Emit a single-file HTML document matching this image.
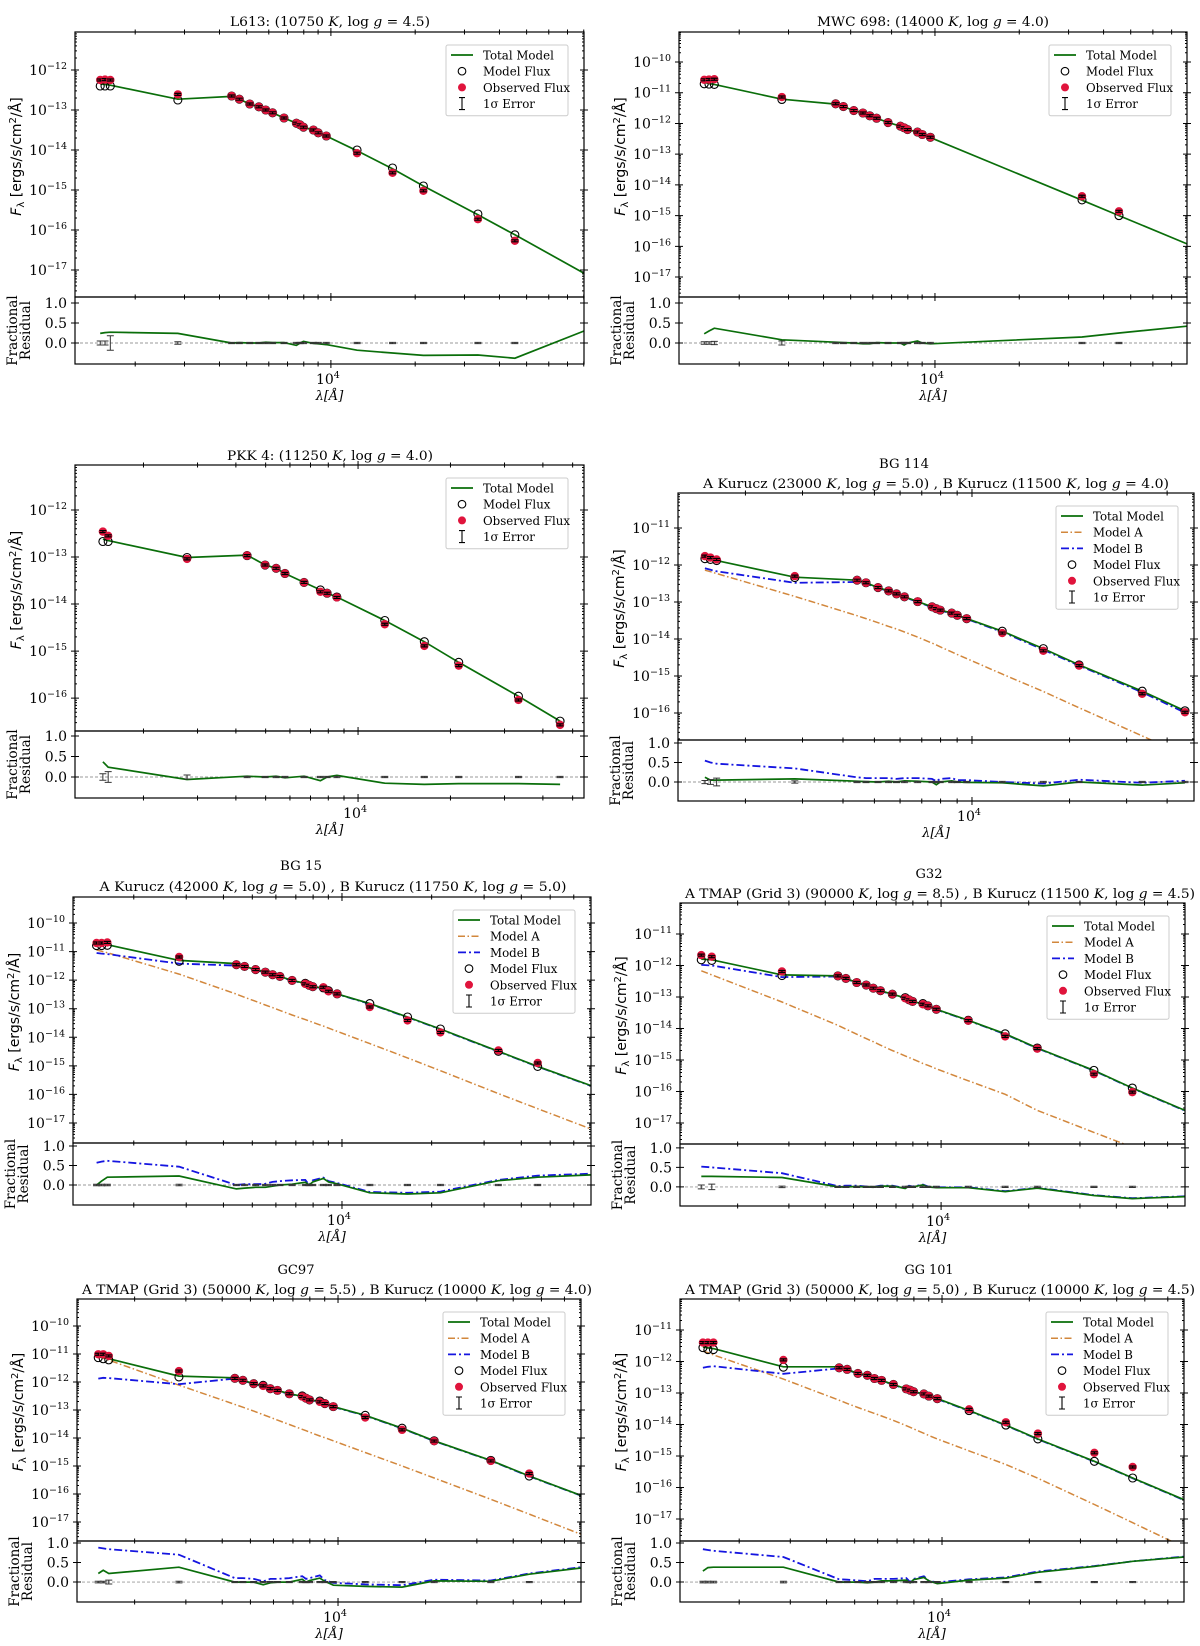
<!DOCTYPE html>
<html><head><meta charset="utf-8">
<style>
html,body{margin:0;padding:0;background:#fff;}
svg{display:block;}
text{font-family:"DejaVu Serif","Liberation Serif",serif;fill:#000;}
.sans{font-family:"DejaVu Sans","Liberation Sans",sans-serif;}
</style></head>
<body>
<svg id="fig" xmlns="http://www.w3.org/2000/svg" width="1200" height="1646" viewBox="0 0 1200 1646"></svg>
<script>
// ---- shared wavelength grids (Angstrom) ----
const WL = [1500,1560,1630,2840,4420,4710,5130,5530,5850,6190,6800,7530,7760,7980,8660,9010,9630,12400,16600,21400,33500,45400];
const WL2 = [1500,1560,1630,2840,4420,4710,5130,5530,5850,6190,6800,7530,7760,7980,8660,9010,9630,33500,45400];
const WL3 = [1475,1535,2773,4350,4980,5410,5780,6670,7540,7930,8530,12220,16440,21280,33300,45500];
const WL6 = [1500,1630,2840,4420,4710,5130,5530,5850,6190,6800,7530,7760,7980,8660,9010,9630,12400,16600,21400,33500,45400];

// ---- Panel 1: L613 (log10 flux) ----
const obs1 = [-12.25,-12.24,-12.25,-12.61,-12.65,-12.73,-12.85,-12.92,-13.0,-13.07,-13.2,-13.33,-13.37,-13.43,-13.5,-13.57,-13.65,-14.08,-14.57,-15.02,-15.73,-16.27];
const mod1 = [-12.4,-12.4,-12.4,-12.75,-12.65,-12.73,-12.85,-12.92,-13.0,-13.07,-13.2,-13.33,-13.37,-13.43,-13.5,-13.57,-13.65,-14.0,-14.45,-14.9,-15.6,-16.12];
const nodes1 = WL.concat([80200]);
const tot1 = [-12.35,-12.36,-12.38,-12.73,-12.66,-12.73,-12.85,-12.92,-13.0,-13.07,-13.2,-13.33,-13.37,-13.43,-13.5,-13.57,-13.65,-14.02,-14.47,-14.9,-15.62,-16.12,-17.08];
const res1 = [0.24,0.26,0.27,0.24,0.0,0.01,0.0,0.0,0.02,0.01,0.01,-0.06,0.0,0.04,-0.01,-0.02,-0.04,-0.18,-0.25,-0.31,-0.3,-0.38,0.3];
const err1 = [0.05,0.05,0.18,0.03];

// ---- Panel 2: MWC 698 ----
const obs2 = [-10.58,-10.57,-10.56,-11.14,-11.36,-11.45,-11.58,-11.66,-11.75,-11.83,-11.97,-12.09,-12.14,-12.2,-12.28,-12.36,-12.45,-14.37,-14.86];
const mod2 = [-10.71,-10.72,-10.73,-11.22,-11.36,-11.45,-11.58,-11.66,-11.75,-11.83,-11.97,-12.09,-12.14,-12.2,-12.28,-12.36,-12.45,-14.49,-15.0];
const nodes2 = WL2.concat([79430]);
const tot2 = [-10.66,-10.7,-10.73,-11.21,-11.37,-11.45,-11.58,-11.66,-11.75,-11.83,-11.97,-12.09,-12.14,-12.2,-12.28,-12.36,-12.46,-14.5,-15.0,-15.92];
const res2 = [0.23,0.3,0.37,0.08,0.02,0.01,0.0,-0.02,-0.02,0.01,0.0,0.0,-0.05,0.0,0.05,0.0,-0.02,0.15,0.25,0.42];
const err2 = [0.03,0.03,0.04,0.05];

// ---- Panel 3: PKK 4 ----
const obs3 = [-12.46,-12.55,-13.04,-12.97,-13.17,-13.24,-13.35,-13.54,-13.74,-13.77,-13.86,-14.43,-14.89,-15.31,-16.04,-16.57];
const mod3 = [-12.67,-12.67,-13.01,-12.97,-13.17,-13.24,-13.35,-13.54,-13.7,-13.77,-13.85,-14.35,-14.8,-15.24,-15.96,-16.49];
const nodes3 = WL3;
const tot3 = [-12.62,-12.65,-13.01,-12.96,-13.17,-13.24,-13.35,-13.54,-13.7,-13.77,-13.85,-14.35,-14.8,-15.24,-15.96,-16.49];
const res3 = [0.37,0.24,-0.06,0.02,0.0,0.02,-0.02,0.02,-0.09,0.0,0.04,-0.15,-0.18,-0.16,-0.16,-0.18];
const err3 = [0.08,0.13,0.05];

// ---- Panel 4: BG 114 ----
const obs4 = [-11.76,-11.8,-11.85,-12.3,-12.41,-12.48,-12.61,-12.7,-12.78,-12.86,-12.99,-13.13,-13.18,-13.22,-13.3,-13.36,-13.45,-13.84,-14.32,-14.72,-15.48,-15.98];
const mod4 = [-11.83,-11.85,-11.88,-12.34,-12.41,-12.48,-12.61,-12.7,-12.78,-12.86,-12.99,-13.13,-13.18,-13.22,-13.3,-13.36,-13.45,-13.79,-14.26,-14.7,-15.41,-15.94];
const nodes4 = WL;
const tot4 = [-11.81,-11.84,-11.88,-12.33,-12.41,-12.48,-12.61,-12.7,-12.78,-12.86,-12.99,-13.13,-13.18,-13.22,-13.3,-13.36,-13.45,-13.79,-14.26,-14.7,-15.41,-15.94];
const modA4 = [-12.14,-12.18,-12.23,-12.85,-13.37,-13.45,-13.56,-13.66,-13.73,-13.81,-13.95,-14.11,-14.16,-14.21,-14.35,-14.42,-14.53,-14.95,-15.42,-15.86,-16.62,-17.15];
const modB4 = [-12.09,-12.13,-12.17,-12.48,-12.46,-12.5,-12.62,-12.71,-12.79,-12.87,-13.0,-13.14,-13.19,-13.23,-13.31,-13.37,-13.46,-13.81,-14.29,-14.72,-15.44,-15.99];
const res4 = [0.12,0.05,0.05,0.08,0.02,0.01,0.0,0.02,0.0,0.03,0.02,0.0,-0.07,0.0,0.03,0.0,-0.01,-0.02,-0.1,0.0,-0.08,-0.02];
const resB4 = [0.55,0.5,0.47,0.35,0.12,0.1,0.1,0.1,0.08,0.1,0.1,0.08,0.02,0.08,0.1,0.05,0.05,0.0,-0.04,0.06,-0.02,0.03];
const err4 = [0.04,0.06,0.1,0.03];

// ---- Panel 5: BG 15 ----
const obs5 = [-10.7,-10.7,-10.68,-11.19,-11.46,-11.52,-11.63,-11.72,-11.81,-11.87,-12.01,-12.13,-12.18,-12.23,-12.25,-12.39,-12.48,-12.94,-13.41,-13.83,-14.46,-14.9];
const mod5 = [-10.79,-10.79,-10.78,-11.34,-11.46,-11.52,-11.63,-11.72,-11.81,-11.87,-12.01,-12.11,-12.18,-12.23,-12.27,-12.37,-12.48,-12.82,-13.29,-13.71,-14.49,-15.02];
const nodes5 = WL.concat([68550]);
const tot5 = [-10.7,-10.73,-10.76,-11.31,-11.42,-11.52,-11.63,-11.72,-11.81,-11.87,-12.01,-12.11,-12.18,-12.23,-12.27,-12.37,-12.48,-12.82,-13.29,-13.71,-14.49,-15.02,-15.69];
const modA5 = [-10.94,-10.99,-11.04,-11.79,-12.49,-12.6,-12.74,-12.87,-12.96,-13.06,-13.22,-13.38,-13.43,-13.48,-13.61,-13.68,-13.79,-14.22,-14.72,-15.17,-15.97,-16.5,-17.21];
const modB5 = [-11.05,-11.07,-11.09,-11.42,-11.49,-11.53,-11.64,-11.73,-11.82,-11.88,-12.02,-12.12,-12.19,-12.24,-12.28,-12.38,-12.49,-12.83,-13.3,-13.72,-14.5,-15.03,-15.7];
const res5 = [0.0,0.1,0.2,0.23,-0.1,-0.08,-0.06,-0.06,-0.03,0.0,0.02,0.07,0.0,0.08,0.17,0.08,0.03,-0.2,-0.23,-0.2,0.11,0.2,0.26];
const resB5 = [0.57,0.6,0.62,0.47,0.0,0.02,0.02,0.03,0.08,0.1,0.12,0.13,0.0,0.12,0.19,0.1,0.05,-0.18,-0.2,-0.17,0.13,0.24,0.29];
const err5 = [0.02,0.02,0.02,0.02];

// ---- Panel 6: G32 ----
const obs6 = [-11.67,-11.72,-12.19,-12.33,-12.41,-12.54,-12.62,-12.72,-12.8,-12.91,-13.04,-13.09,-13.14,-13.23,-13.28,-13.39,-13.75,-14.25,-14.64,-15.45,-16.02];
const mod6 = [-11.82,-11.84,-12.32,-12.33,-12.41,-12.54,-12.62,-12.72,-12.8,-12.91,-13.02,-13.09,-13.14,-13.21,-13.28,-13.39,-13.74,-14.17,-14.62,-15.33,-15.89];
const nodes6 = WL6.concat([68870]);
const tot6 = [-11.8,-11.82,-12.3,-12.33,-12.41,-12.54,-12.62,-12.72,-12.8,-12.91,-13.03,-13.09,-13.14,-13.22,-13.28,-13.39,-13.74,-14.17,-14.62,-15.33,-15.89,-16.6];
const modA6 = [-12.17,-12.3,-13.16,-13.9,-14.02,-14.18,-14.32,-14.42,-14.53,-14.7,-14.87,-14.92,-14.97,-15.11,-15.17,-15.28,-15.66,-16.09,-16.6,-17.3,-17.77,-18.4];
const modB6 = [-11.98,-12.0,-12.37,-12.35,-12.42,-12.55,-12.63,-12.73,-12.81,-12.92,-13.04,-13.1,-13.15,-13.23,-13.29,-13.4,-13.75,-14.18,-14.63,-15.34,-15.9,-16.61];
const res6 = [0.27,0.27,0.24,0.0,0.0,0.01,0.0,-0.01,0.02,0.02,-0.04,0.02,0.0,0.05,0.0,-0.02,-0.02,-0.12,-0.03,-0.22,-0.3,-0.25];
const resB6 = [0.52,0.5,0.35,0.02,0.03,0.03,0.01,0.0,0.03,0.03,-0.03,0.03,0.01,0.06,0.01,-0.01,-0.01,-0.11,-0.02,-0.21,-0.29,-0.24];
const err6 = [0.05,0.07,0.02];

// ---- Panel 7: GC97 ----
const obs7 = [-11.01,-11.01,-11.07,-11.61,-11.87,-11.94,-12.06,-12.14,-12.24,-12.3,-12.42,-12.52,-12.58,-12.64,-12.71,-12.77,-12.88,-13.27,-13.71,-14.11,-14.82,-15.27];
const mod7 = [-11.13,-11.17,-11.21,-11.82,-11.87,-11.94,-12.06,-12.12,-12.24,-12.3,-12.42,-12.5,-12.58,-12.64,-12.68,-12.77,-12.88,-13.19,-13.65,-14.1,-14.8,-15.36];
const nodes7 = WL.concat([68390]);
const tot7 = [-11.1,-11.13,-11.17,-11.79,-11.85,-11.94,-12.06,-12.13,-12.24,-12.3,-12.42,-12.51,-12.58,-12.64,-12.69,-12.77,-12.88,-13.19,-13.65,-14.1,-14.8,-15.36,-16.05];
const modA7 = [-11.08,-11.15,-11.22,-12.11,-12.8,-12.9,-13.04,-13.17,-13.26,-13.36,-13.52,-13.69,-13.74,-13.79,-13.93,-13.99,-14.1,-14.52,-15.0,-15.43,-16.19,-16.72,-17.44];
const modB7 = [-11.88,-11.85,-11.86,-12.08,-11.88,-11.95,-12.07,-12.14,-12.25,-12.31,-12.43,-12.52,-12.59,-12.65,-12.7,-12.78,-12.89,-13.2,-13.66,-14.11,-14.81,-15.37,-16.06];
const res7 = [0.22,0.3,0.22,0.38,0.0,0.0,0.0,-0.07,-0.02,0.0,0.0,0.07,0.0,0.04,0.1,0.02,-0.08,-0.11,-0.13,0.03,0.02,0.2,0.36];
const resB7 = [0.88,0.86,0.84,0.7,0.1,0.1,0.08,0.02,0.08,0.08,0.1,0.15,0.08,0.1,0.17,0.05,-0.02,-0.06,-0.08,0.06,0.04,0.22,0.38];
const err7 = [0.02,0.02,0.05,0.02];

// ---- Panel 8: GG 101 ----
const obs8 = [-11.4,-11.4,-11.4,-11.95,-12.2,-12.25,-12.38,-12.44,-12.54,-12.6,-12.73,-12.87,-12.91,-12.96,-13.03,-13.1,-13.18,-13.52,-13.93,-14.29,-14.9,-15.35];
const mod8 = [-11.56,-11.62,-11.62,-12.18,-12.2,-12.25,-12.38,-12.44,-12.54,-12.6,-12.73,-12.87,-12.91,-12.96,-13.03,-13.1,-13.18,-13.56,-14.02,-14.46,-15.17,-15.7];
const nodes8 = WL.concat([68230]);
const tot8 = [-11.54,-11.57,-11.59,-12.17,-12.17,-12.25,-12.38,-12.44,-12.54,-12.6,-12.73,-12.87,-12.91,-12.96,-13.03,-13.1,-13.18,-13.56,-14.02,-14.46,-15.17,-15.7,-16.39];
const modA8 = [-11.67,-11.72,-11.79,-12.56,-13.23,-13.33,-13.46,-13.57,-13.65,-13.73,-13.87,-14.04,-14.09,-14.14,-14.28,-14.35,-14.46,-14.84,-15.27,-15.71,-16.54,-17.12,-17.9];
const modB8 = [-12.2,-12.17,-12.15,-12.39,-12.22,-12.26,-12.39,-12.45,-12.55,-12.61,-12.74,-12.88,-12.92,-12.97,-13.04,-13.11,-13.19,-13.57,-14.03,-14.47,-15.18,-15.71,-16.4];
const res8 = [0.28,0.37,0.38,0.38,0.0,0.0,0.0,-0.02,0.0,0.03,0.03,0.05,-0.02,0.06,0.12,0.03,-0.04,0.05,0.1,0.25,0.4,0.53,0.64];
const resB8 = [0.84,0.82,0.8,0.64,0.07,0.06,0.04,0.02,0.08,0.08,0.08,0.1,0.0,0.08,0.15,0.03,-0.01,0.07,0.12,0.27,0.41,0.53,0.65];
const err8 = [0.02,0.02,0.02,0.02];

const resTicks = [0, 0.5, 1.0];
const resTickLabels = ["0.0", "0.5", "1.0"];

const NS = "http://www.w3.org/2000/svg";
const fig = document.getElementById('fig');
const GREEN = "#0a6e0a", ORANGE = "#d2873c", BLUE = "#1515e0", RED = "#e0143c";

function mk(tag, attrs, parent) {
  const e = document.createElementNS(NS, tag);
  for (const k in attrs) e.setAttribute(k, attrs[k]);
  (parent || fig).appendChild(e);
  return e;
}
function sup(parent, base, exp, attrs) {
  const t = mk('text', attrs, parent);
  t.appendChild(document.createTextNode(base));
  const s = mk('tspan', {dy: -6, 'font-size': 9.5}, t);
  s.textContent = exp;
  return t;
}

let clipId = 0;
function panel(P) {
  const g = mk('g', {});
  
  
  const X = l => P.x0 + (Math.log10(l) - P.lx[0]) / (P.lx[1] - P.lx[0]) * (P.x1 - P.x0);
  const Y = v => P.yT + (P.ly[1] - v) / (P.ly[1] - P.ly[0]) * (P.yM - P.yT);
  const R = v => P.yM + (P.lr[1] - v) / (P.lr[1] - P.lr[0]) * (P.yB - P.yM);

  P.titles.forEach(t => {
    const tt = mk('text', {x: t.x, y: t.y, 'font-size': 13, 'text-anchor': 'middle', textLength: t.w, lengthAdjust: 'spacingAndGlyphs'}, g);
    
    
    t.parts.forEach(p => { const s = mk('tspan', p[1] ? {'font-style': 'italic'} : {}, tt); s.textContent = p[0]; });
  });

  const cm = 'c' + (clipId++), cr = 'c' + (clipId++);
  const cpm = mk('clipPath', {id: cm}, g); mk('rect', {x: P.x0, y: P.yT, width: P.x1 - P.x0, height: P.yM - P.yT}, cpm);
  const cpr = mk('clipPath', {id: cr}, g); mk('rect', {x: P.x0, y: P.yM, width: P.x1 - P.x0, height: P.yB - P.yM}, cpr);
  const gm = mk('g', {'clip-path': 'url(#' + cm + ')'}, g);
  const gr = mk('g', {'clip-path': 'url(#' + cr + ')'}, g);

  const line = (par, xs, vs, f, col, w, dash, nm) => {
    const d = xs.map((l, i) => (i ? 'L' : 'M') + X(l).toFixed(1) + ',' + f(vs[i]).toFixed(1)).join('');
    const p = mk('path', {d: d, fill: 'none', stroke: col, 'stroke-width': w}, par);
    if (dash) p.setAttribute('stroke-dasharray', dash);
    
    
  };
  if (P.A) line(gm, P.nodes, P.A, Y, ORANGE, 1.5, '7,2.5,1.5,2.5', 'model-a-line');
  if (P.B) line(gm, P.nodes, P.B, Y, BLUE, 1.8, '8,3,2,3', 'model-b-line');
  line(gm, P.nodes, P.tot, Y, GREEN, 1.7, null, 'total-model-line');
  P.wl.forEach((l, i) => {
    const c = mk('circle', {cx: X(l), cy: Y(P.mod[i]), r: 4, fill: 'none', stroke: '#000', 'stroke-width': 1.1}, gm);
    
    
  });
  P.wl.forEach((l, i) => {
    const c = mk('circle', {cx: X(l), cy: Y(P.obs[i]), r: 4.2, fill: RED}, gm);
    
    
    const x = X(l), y = Y(P.obs[i]);
    const e = mk('path', {d: `M${x - 3.5},${y - 1}h7M${x - 3.5},${y + 1}h7M${x},${y - 1}v2`, stroke: '#000', 'stroke-width': 1.2}, gm);
    
    
  });

  const z = mk('line', {x1: P.x0, x2: P.x1, y1: R(0), y2: R(0), stroke: '#999', 'stroke-width': 0.9, 'stroke-dasharray': '3,2'}, gr);
  
  
  if (P.resB) line(gr, P.nodes, P.resB, R, BLUE, 1.8, '8,3,2,3', 'model-b-residual');
  line(gr, P.nodes, P.res, R, GREEN, 1.7, null, 'total-residual');
  P.wl.forEach((l, i) => {
    const er = i < P.err.length ? P.err[i] : 0.015;
    const x = X(l), y0 = R(er), y1 = R(-er);
    const e = mk('path', {d: `M${x},${y0}V${y1}M${x - 3.5},${y0}h7M${x - 3.5},${y1}h7`, stroke: '#333', 'stroke-width': 1, fill: 'none'}, gr);
    
    
  });

  [[P.yT, P.yM], [P.yM, P.yB]].forEach(r => {
    const f = mk('rect', {x: P.x0, y: r[0], width: P.x1 - P.x0, height: r[1] - r[0], fill: 'none', stroke: '#000', 'stroke-width': 1.2}, g);
    
    
  });
  let tk = '';
  for (let k = 3; k <= 4; k++) for (let m = 1; m <= 9; m++) {
    const l = m * Math.pow(10, k), lg = Math.log10(l);
    if (lg <= P.lx[0] || lg >= P.lx[1]) continue;
    const x = X(l), len = (m === 1) ? 4 : 2.5;
    [P.yT, P.yM, P.yB].forEach(yy => { tk += `M${x},${yy - len}v${2 * len}`; });
  }
  for (let d = Math.ceil(P.ly[0]); d <= Math.floor(P.ly[1]); d++) {
    const y = Y(d);
    tk += `M${P.x0 - 4},${y}h8M${P.x1 - 4},${y}h8`;
    const lab = sup(g, '10', '\u2212' + (-d), {x: P.x0 - 8, y: y + 5, 'font-size': 14, 'text-anchor': 'end'});
    
    
  }
  for (let d = Math.floor(P.ly[0]); d <= P.ly[1]; d++) for (let m = 2; m <= 9; m++) {
    const v = d + Math.log10(m);
    if (v <= P.ly[0] || v >= P.ly[1]) continue;
    const y = Y(v);
    tk += `M${P.x0},${y}h2M${P.x1 - 2},${y}h2`;
  }
  resTicks.forEach((v, i) => {
    const y = R(v);
    tk += `M${P.x0 - 4},${y}h8M${P.x1 - 4},${y}h8`;
    const t = mk('text', {x: P.x0 - 8, y: y + 5, 'font-size': 14, 'text-anchor': 'end'}, g);
    t.textContent = resTickLabels[i];
    
    
  });
  const tp = mk('path', {d: tk, stroke: '#000', 'stroke-width': 1, fill: 'none'}, g);
  
  
  const xl = sup(g, '10', '4', {x: X(1e4) - 3, y: P.yB + 20, 'font-size': 14, 'text-anchor': 'middle'});
  
  
  const xt = mk('text', {x: (P.x0 + P.x1) / 2, y: P.yB + 36, 'font-size': 13, 'text-anchor': 'middle', 'font-style': 'italic'}, g);
  xt.textContent = 'λ[Å]';
  
  

  const cy = (P.yT + P.yM) / 2 - 8, lx = P.x0 - 54;
  const yl = mk('text', {x: lx, y: cy, 'font-size': 14, 'text-anchor': 'middle', transform: `rotate(-90 ${lx} ${cy})`, class: 'sans'}, g);
  
  
  const s1 = mk('tspan', {'font-style': 'italic'}, yl); s1.textContent = 'F';
  const s2 = mk('tspan', {dy: 3, 'font-size': 10}, yl); s2.textContent = 'λ';
  const s3 = mk('tspan', {dy: -3}, yl); s3.textContent = ' [ergs/s/cm';
  const s4 = mk('tspan', {dy: -5, 'font-size': 10}, yl); s4.textContent = '2';
  const s5 = mk('tspan', {dy: 5}, yl); s5.textContent = '/Å]';
  const ry = (P.yM + P.yB) / 2;
  [['Fractional', P.x0 - 58], ['Residual', P.x0 - 45]].forEach(a => {
    const t = mk('text', {x: a[1], y: ry, 'font-size': 13.5, 'text-anchor': 'middle', transform: `rotate(-90 ${a[1]} ${ry})`}, g);
    t.textContent = a[0];
    
    
  });

  const ent = P.A ? ['total', 'A', 'B', 'mf', 'of', 'err'] : ['total', 'mf', 'of', 'err'];
  const names = {total: 'Total Model', A: 'Model A', B: 'Model B', mf: 'Model Flux', of: 'Observed Flux', err: '1σ Error'};
  const L = P.x1 - 16 - 122, T = P.yT + 13, rh = 16.2;
  const lg = mk('g', {}, g);
  
  
  mk('rect', {x: L, y: T, width: 122, height: ent.length * rh + 6, rx: 2, fill: '#fff', 'fill-opacity': 0.85, stroke: '#ccc', 'stroke-width': 1}, lg);
  ent.forEach((e, i) => {
    const y = T + 10 + i * rh, hx = L + 16;
    const eg = mk('g', {}, lg);
    
    
    if (e === 'total') mk('line', {x1: L + 5, x2: L + 27, y1: y, y2: y, stroke: GREEN, 'stroke-width': 1.7}, eg);
    if (e === 'A') mk('line', {x1: L + 5, x2: L + 27, y1: y, y2: y, stroke: ORANGE, 'stroke-width': 1.5, 'stroke-dasharray': '7,2.5,1.5,2.5'}, eg);
    if (e === 'B') mk('line', {x1: L + 5, x2: L + 27, y1: y, y2: y, stroke: BLUE, 'stroke-width': 1.8, 'stroke-dasharray': '8,3,2,3'}, eg);
    if (e === 'mf') mk('circle', {cx: hx, cy: y, r: 3.8, fill: 'none', stroke: '#000', 'stroke-width': 1.1}, eg);
    if (e === 'of') mk('circle', {cx: hx, cy: y, r: 4, fill: RED}, eg);
    if (e === 'err') mk('path', {d: `M${hx - 3},${y - 6}h6M${hx},${y - 6}v12M${hx - 3},${y + 6}h6`, stroke: '#000', 'stroke-width': 1.1}, eg);
    const t = mk('text', {x: L + 37, y: y + 4.5, 'font-size': 11.8}, eg);
    t.textContent = names[e];
  });
}

panel({name: 'l613', x0: 75, x1: 584, yT: 32, yM: 297, yB: 364, lx: [3.086, 4.904], ly: [-17.675, -11.05], lr: [-0.525, 1.15],
  wl: WL, obs: obs1, mod: mod1, nodes: nodes1, tot: tot1, res: res1, err: err1,
  titles: [{x: 330, y: 26, w: 200, parts: [['L613: (10750 '], ['K', 1], [', log '], ['g', 1], [' = 4.5)']]}]});
panel({name: 'mwc698', x0: 679, x1: 1187, yT: 32, yM: 297, yB: 364, lx: [3.086, 4.9], ly: [-17.65, -9.023], lr: [-0.525, 1.15],
  wl: WL2, obs: obs2, mod: mod2, nodes: nodes2, tot: tot2, res: res2, err: err2,
  titles: [{x: 933, y: 26, w: 232, parts: [['MWC 698: (14000 '], ['K', 1], [', log '], ['g', 1], [' = 4.0)']]}]});
panel({name: 'pkk4', x0: 75, x1: 584, yT: 465, yM: 731, yB: 798, lx: [3.078, 4.736], ly: [-16.70, -11.043], lr: [-0.512, 1.122],
  wl: WL3, obs: obs3, mod: mod3, nodes: nodes3, tot: tot3, res: res3, err: err3,
  titles: [{x: 330, y: 460, w: 206, parts: [['PKK 4: (11250 '], ['K', 1], [', log '], ['g', 1], [' = 4.0)']]}]});
panel({name: 'bg114', x0: 678, x1: 1194, yT: 493, yM: 740, yB: 801, lx: [3.093, 4.685], ly: [-16.73, -10.054], lr: [-0.487, 1.077],
  wl: WL, obs: obs4, mod: mod4, nodes: nodes4, tot: tot4, A: modA4, B: modB4, res: res4, resB: resB4, err: err4,
  titles: [{x: 904, y: 468, w: 50, parts: [['BG 114']]},
           {x: 936, y: 488, w: 466, parts: [['A Kurucz (23000 '], ['K', 1], [', log '], ['g', 1], [' = 5.0) , B Kurucz (11500 '], ['K', 1], [', log '], ['g', 1], [' = 4.0)']]}]});
panel({name: 'bg15', x0: 73, x1: 591, yT: 897, yM: 1143, yB: 1205, lx: [3.097, 4.836], ly: [-17.7, -9.09], lr: [-0.513, 1.077],
  wl: WL, obs: obs5, mod: mod5, nodes: nodes5, tot: tot5, A: modA5, B: modB5, res: res5, resB: resB5, err: err5,
  titles: [{x: 301, y: 870, w: 42, parts: [['BG 15']]},
           {x: 333, y: 891, w: 467, parts: [['A Kurucz (42000 '], ['K', 1], [', log '], ['g', 1], [' = 5.0) , B Kurucz (11750 '], ['K', 1], [', log '], ['g', 1], [' = 5.0)']]}]});
panel({name: 'g32', x0: 680, x1: 1185, yT: 903, yM: 1144, yB: 1206, lx: [3.103, 4.838], ly: [-17.667, -10.016], lr: [-0.49, 1.1],
  wl: WL6, obs: obs6, mod: mod6, nodes: nodes6, tot: tot6, A: modA6, B: modB6, res: res6, resB: resB6, err: err6,
  titles: [{x: 929, y: 878, w: 27, parts: [['G32']]},
           {x: 940, y: 898, w: 510, parts: [['A TMAP (Grid 3) (90000 '], ['K', 1], [', log '], ['g', 1], [' = 8.5) , B Kurucz (11500 '], ['K', 1], [', log '], ['g', 1], [' = 4.5)']]}]});
panel({name: 'gc97', x0: 77, x1: 581, yT: 1299, yM: 1541, yB: 1602, lx: [3.103, 4.835], ly: [-17.68, -9.036], lr: [-0.51, 1.05],
  wl: WL, obs: obs7, mod: mod7, nodes: nodes7, tot: tot7, A: modA7, B: modB7, res: res7, resB: resB7, err: err7,
  titles: [{x: 296, y: 1274, w: 37, parts: [['GC97']]},
           {x: 337, y: 1294, w: 510, parts: [['A TMAP (Grid 3) (50000 '], ['K', 1], [', log '], ['g', 1], [' = 5.5) , B Kurucz (10000 '], ['K', 1], [', log '], ['g', 1], [' = 4.0)']]}]});
panel({name: 'gg101', x0: 680, x1: 1184, yT: 1299, yM: 1541, yB: 1602, lx: [3.097, 4.834], ly: [-17.7, -10.016], lr: [-0.51, 1.05],
  wl: WL, obs: obs8, mod: mod8, nodes: nodes8, tot: tot8, A: modA8, B: modB8, res: res8, resB: resB8, err: err8,
  titles: [{x: 929, y: 1274, w: 49, parts: [['GG 101']]},
           {x: 940, y: 1294, w: 510, parts: [['A TMAP (Grid 3) (50000 '], ['K', 1], [', log '], ['g', 1], [' = 5.0) , B Kurucz (10000 '], ['K', 1], [', log '], ['g', 1], [' = 4.5)']]}]});
</script>
</body></html>
